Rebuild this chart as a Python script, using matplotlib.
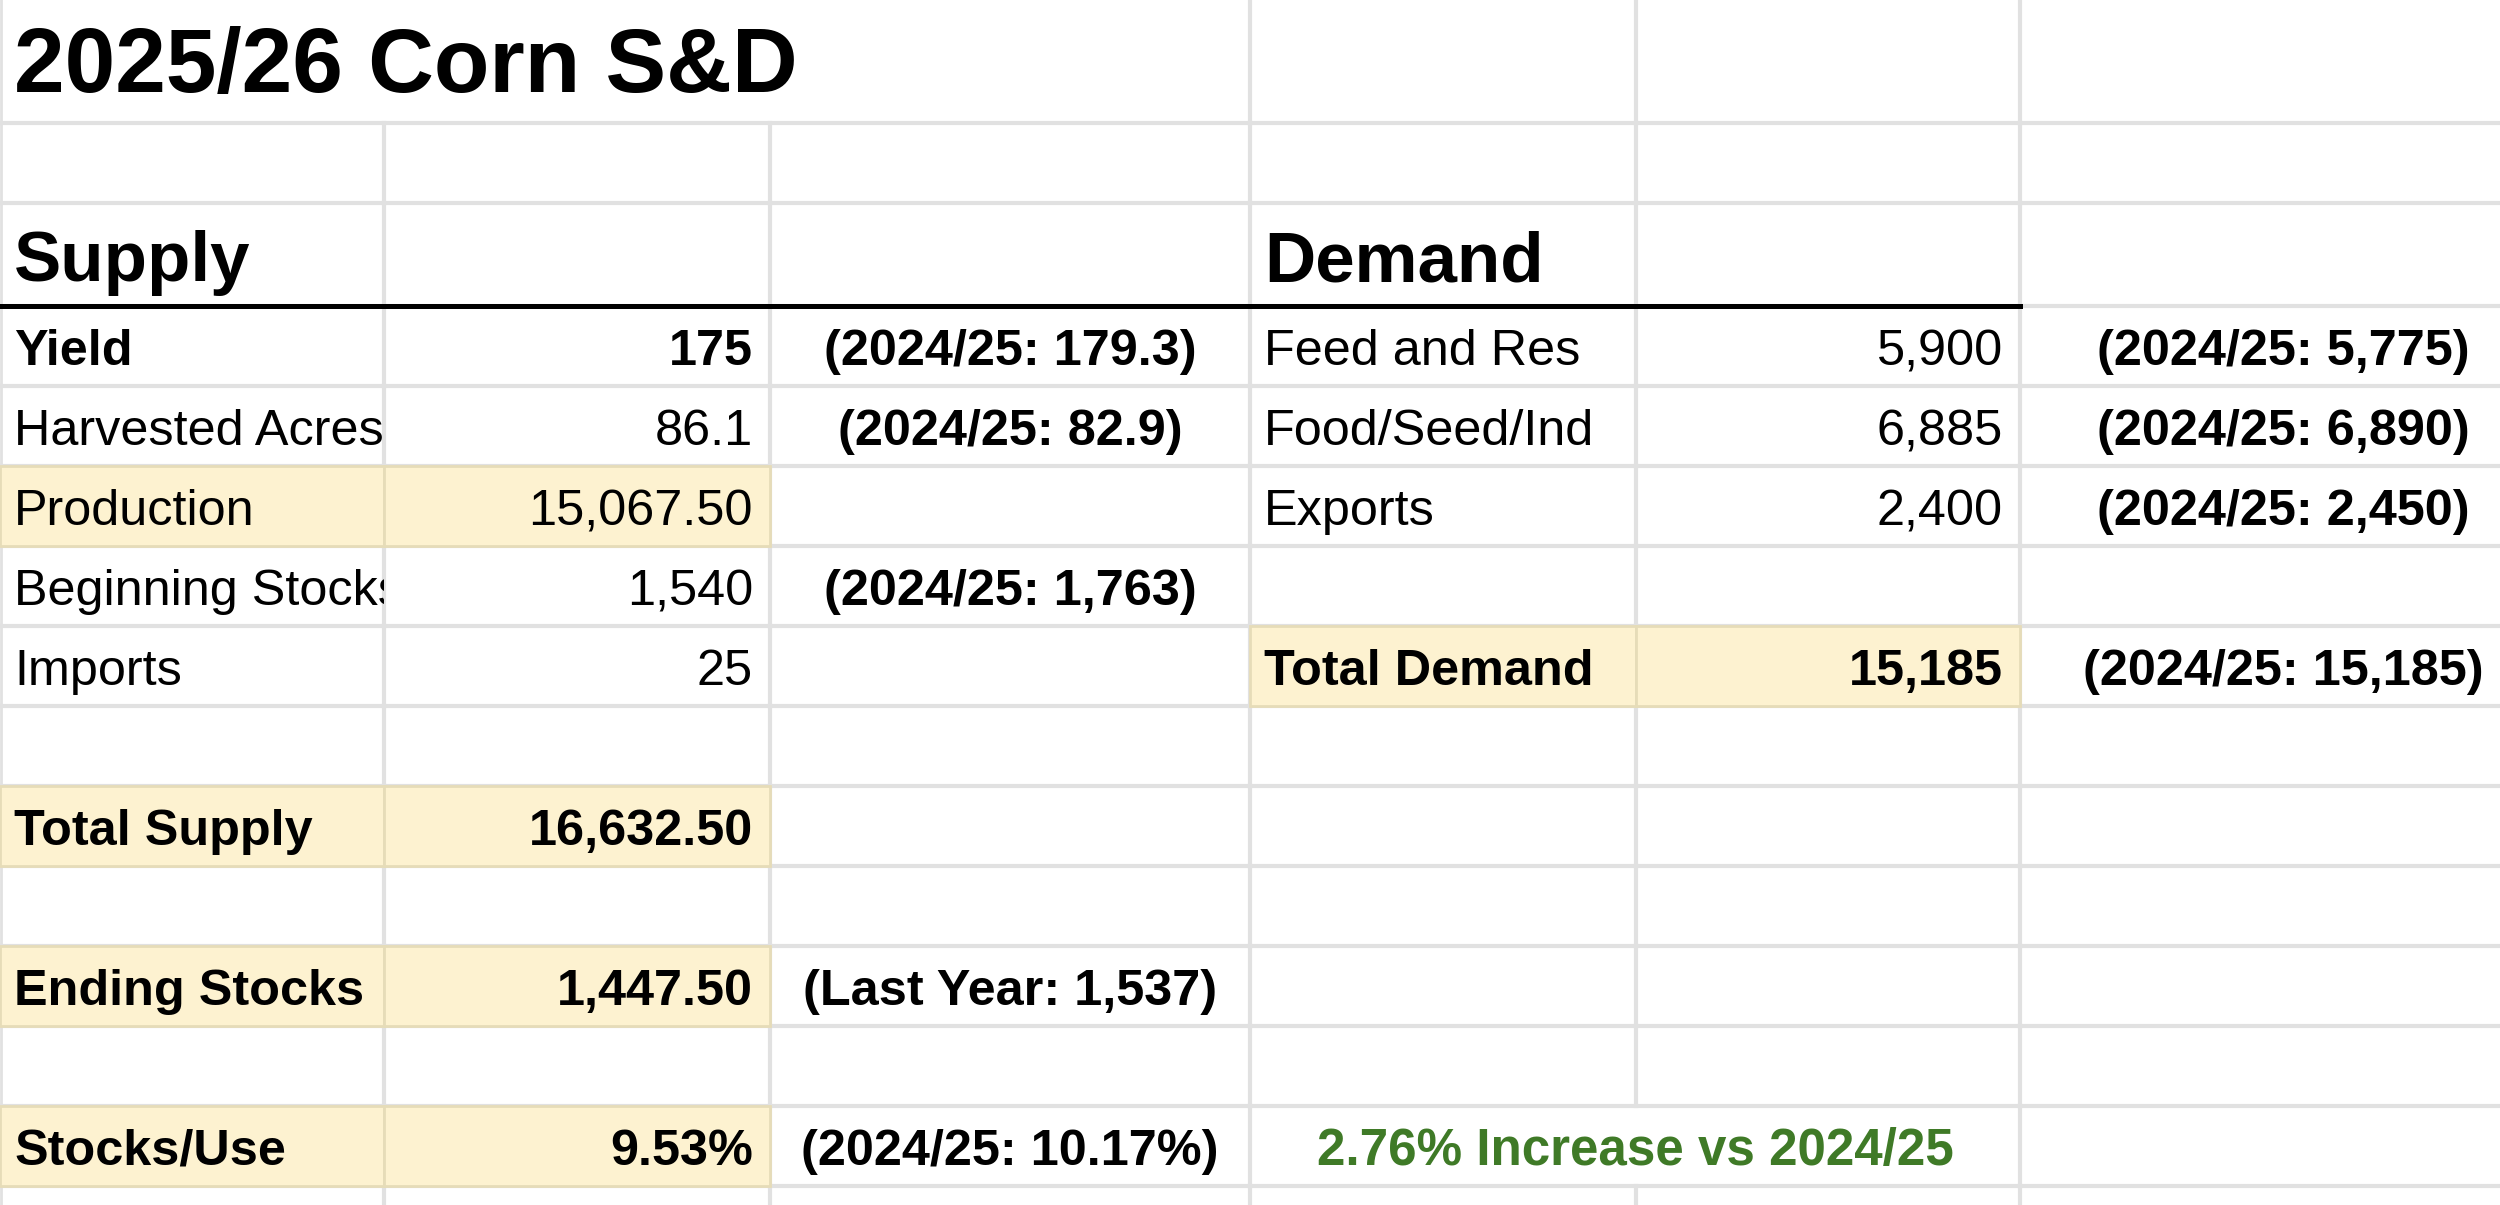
import matplotlib
matplotlib.use("Agg")
import matplotlib.pyplot as plt
from matplotlib.patches import Rectangle
from matplotlib.transforms import Bbox, TransformedBbox

plt.rcParams['font.family'] = ['Liberation Sans', 'DejaVu Sans']

# --- data (as shown in the sheet) ---
title = "2025/26 Corn S&D"

supply_labels = ["Yield", "Harvested Acres", "Production", "Beginning Stocks", "Imports"]
supply_values = ["175", "86.1", "15,067.50", "1,540", "25"]
supply_prev = ["(2024/25: 179.3)", "(2024/25: 82.9)", "", "(2024/25: 1,763)", ""]

demand_labels = ["Feed and Res", "Food/Seed/Ind", "Exports"]
demand_values = ["5,900", "6,885", "2,400"]
demand_prev = ["(2024/25: 5,775)", "(2024/25: 6,890)", "(2024/25: 2,450)"]

total_supply = "16,632.50"
total_demand = "15,185"
total_demand_prev = "(2024/25: 15,185)"
ending_stocks = "1,447.50"
ending_prev = "(Last Year: 1,537)"
stocks_use = "9.53%"
stocks_use_prev = "(2024/25: 10.17%)"
change_note = "2.76% Increase vs 2024/25"

# --- layout (pixels of the sheet screenshot) ---
W, H = 2500, 1205
col_edges = [0, 384, 770, 1250, 1636, 2020, 2546]
row_edges = [0, 123, 203, 306, 386, 466, 546, 626, 706, 786, 866, 946, 1026, 1106, 1186, 1266]

GRID = "#e1e1e1"
FILL = "#fdf2d0"
FILL_EDGE = "#e6dcb8"
GREEN = "#3f7a27"
BODY = 36.3

fig = plt.figure(figsize=(W / 100, H / 100), dpi=100)
ax = fig.add_axes([0, 0, 1, 1])
ax.set_xlim(0, W)
ax.set_ylim(H, 0)
ax.axis("off")

# grid lines
for r in range(1, len(row_edges)):
    ax.plot([0, W], [row_edges[r], row_edges[r]], color=GRID, lw=3, zorder=1)
for c in range(1, len(col_edges) - 1):
    x = col_edges[c]
    for r in range(len(row_edges) - 1):
        if r == 0 and c < 3:
            continue  # title merged A:C
        if r == 13 and c == 4:
            continue  # note merged D:E
        ax.plot([x, x], [row_edges[r], row_edges[r + 1]], color=GRID, lw=3, zorder=1)
ax.plot([1, 1], [0, H], color=GRID, lw=2, zorder=1)


def cell_box(r, c, span=1):
    return col_edges[c], row_edges[r], col_edges[c + span], row_edges[r + 1]


def fill(r, c):
    x0, y0, x1, y1 = cell_box(r, c)
    ax.add_patch(Rectangle((x0, y0), x1 - x0, y1 - y0, facecolor=FILL,
                           edgecolor=FILL_EDGE, lw=2, zorder=2))


def put(r, c, text, ha="left", bold=False, size=BODY, color="black",
        span=1, pad_base=21, clip=False):
    if not text:
        return
    x0, y0, x1, y1 = cell_box(r, c, span)
    if ha == "left":
        x = x0 + 14
    elif ha == "right":
        x = x1 - 17
    else:
        x = (x0 + x1) / 2
    t = ax.text(x, y1 - pad_base, text, ha=ha, va="baseline", fontsize=size,
                fontweight="bold" if bold else "normal", color=color, zorder=3,
                clip_on=clip)
    if clip:
        t.set_clip_box(TransformedBbox(Bbox.from_extents(x0, y0, x1, y1), ax.transData))


# title and section headers
put(0, 0, title, bold=True, size=65.5, span=3, pad_base=31)
put(2, 0, "Supply", bold=True, size=51, pad_base=25)
put(2, 3, "Demand", bold=True, size=51, pad_base=25)
ax.plot([0, col_edges[5]], [row_edges[3], row_edges[3]], color="black", lw=3.6, zorder=4)

# highlighted cells
for r in (5, 9, 11, 13):
    fill(r, 0)
    fill(r, 1)
fill(7, 3)
fill(7, 4)

# supply block
supply_bold = [True, False, False, False, False]
for i, lab in enumerate(supply_labels):
    r = 3 + i
    put(r, 0, lab, bold=supply_bold[i], clip=True)
    put(r, 1, supply_values[i], ha="right", bold=supply_bold[i])
    put(r, 2, supply_prev[i], ha="center", bold=True)

put(9, 0, "Total Supply", bold=True)
put(9, 1, total_supply, ha="right", bold=True)
put(11, 0, "Ending Stocks", bold=True)
put(11, 1, ending_stocks, ha="right", bold=True)
put(11, 2, ending_prev, ha="center", bold=True)
put(13, 0, "Stocks/Use", bold=True)
put(13, 1, stocks_use, ha="right", bold=True)
put(13, 2, stocks_use_prev, ha="center", bold=True)

# demand block
for i, lab in enumerate(demand_labels):
    r = 3 + i
    put(r, 3, lab)
    put(r, 4, demand_values[i], ha="right")
    put(r, 5, demand_prev[i], ha="center", bold=True)

put(7, 3, "Total Demand", bold=True)
put(7, 4, total_demand, ha="right", bold=True)
put(7, 5, total_demand_prev, ha="center", bold=True)
put(13, 3, change_note, ha="center", bold=True, color=GREEN, span=2, size=36.8)

fig.savefig("out.png", dpi=100, facecolor="white")
